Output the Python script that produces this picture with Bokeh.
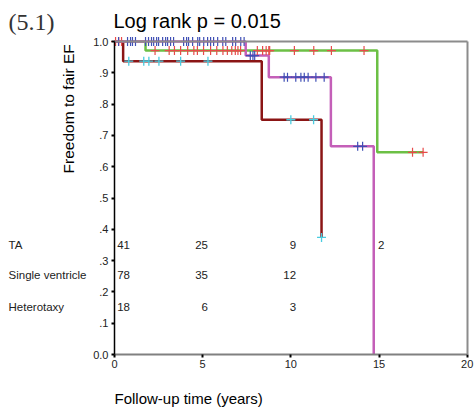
from bokeh.plotting import figure
from bokeh.models import Range1d, FixedTicker, Label, LinearAxis
from bokeh.embed import file_html
from bokeh.resources import INLINE
import math

# ---- data ----
ta_times = [0.0, 1.76, 14.9, 17.5]
ta_surv = [1.0, 0.971, 0.646, 0.646]
ta_cens_t = [0.06, 0.24, 0.40,
             2.3, 3.1, 3.4, 3.75, 4.15, 4.5, 4.7, 5.05, 5.45, 5.8, 6.15, 6.4, 6.65, 6.85, 7.0, 7.15,
             8.1, 8.4, 8.6, 8.75, 8.8, 10.2, 11.3, 12.3, 14.15, 16.9, 17.5]
ta_cens_s = [1.0, 1.0, 1.0] + [0.971] * 25 + [0.646, 0.646]

sv_times = [0.0, 7.44, 8.75, 12.27, 14.7]
sv_surv = [1.0, 0.955, 0.886, 0.665, 0.0]
sv_cens_t = [0.23, 0.74, 0.91, 1.02, 1.19, 1.76, 1.93, 2.10, 2.22, 2.39, 2.5, 2.73, 2.9, 3.01, 3.18,
             3.35, 3.92, 4.09, 4.2, 4.43, 4.72, 4.83, 5.06, 5.28, 5.45, 5.62, 5.85, 6.14, 6.31, 6.7,
             6.87, 7.16, 7.35,
             7.7, 7.85, 7.95,
             9.62, 9.81, 10.28, 10.57, 10.76, 10.98, 11.42, 11.89,
             13.79, 14.07]
sv_cens_s = [1.0] * 33 + [0.955] * 3 + [0.886] * 8 + [0.665] * 2

ht_times = [0.0, 0.49, 8.35, 11.74]
ht_surv = [1.0, 0.937, 0.75, 0.374]
ht_cens_t = [0.81, 1.66, 1.95, 2.52, 3.75, 5.3, 10.0, 11.29, 11.74]
ht_cens_s = [0.937] * 6 + [0.75, 0.75, 0.374]

groups = ["TA", "Single ventricle", "Heterotaxy"]
risk_times = [0, 5, 10, 15]
risk_ta = ["41", "25", "9", "2"]
risk_sv = ["78", "35", "12", ""]
risk_ht = ["18", "6", "3", ""]

x_ticks = [0, 5, 10, 15, 20]
y_ticks = [0.0, 0.1, 0.2, 0.3, 0.4, 0.5, 0.6, 0.7, 0.8, 0.9, 1.0]
y_tick_labels = ["0.0", ".1", ".2", ".3", ".4", ".5", ".6", ".7", ".8", ".9", "1.0"]

title_text = "Log rank p = 0.015"
panel_text = "(5.1)"
y_label = "Freedom to fair EF"
x_label = "Follow-up time (years)"

X_MIN, X_MAX = 0, 20
Y_MIN, Y_MAX = 0.0, 1.0

# ---- figure: the frame fills the page; axes sit at fixed data locations ----
FONT = "Liberation Sans"
p = figure(width=474, height=408, output_backend="svg", toolbar_location=None,
           x_range=Range1d(-6.464, 20.414), y_range=Range1d(-0.1725, 1.131),
           min_border=0)
p.title.visible = False
p.background_fill_color = "white"
p.border_fill_color = "white"
p.outline_line_color = None
p.grid.visible = False

p.xaxis.fixed_location = Y_MIN
p.yaxis.fixed_location = X_MIN
p.xaxis.bounds = (X_MIN, X_MAX)
p.yaxis.bounds = (Y_MIN, Y_MAX)
p.xaxis.ticker = FixedTicker(ticks=x_ticks)
p.yaxis.ticker = FixedTicker(ticks=y_ticks)
p.yaxis.major_label_overrides = {t: l for t, l in zip(y_ticks, y_tick_labels)}
for ax in (p.xaxis, p.yaxis):
    ax.minor_tick_line_color = None
    ax.major_tick_in = 0
    ax.major_tick_out = 3
    ax.major_tick_line_width = 2
    ax.major_tick_line_color = "black"
    ax.major_label_text_font = FONT
    ax.major_label_text_font_size = "11px"
    ax.major_label_text_color = "#222222"
p.yaxis.axis_line_color = "black"
p.yaxis.axis_line_width = 1.5
p.yaxis.major_label_standoff = 3
p.xaxis.axis_line_color = "#808080"
p.xaxis.axis_line_width = 2
p.xaxis.major_label_standoff = 2

# top and right frame borders as bare axes
top_ax = LinearAxis(fixed_location=Y_MAX, bounds=(X_MIN, X_MAX), ticker=FixedTicker(ticks=[]),
                    axis_line_color="#8c8c8c", axis_line_width=2, major_tick_line_color=None,
                    minor_tick_line_color=None, major_label_text_alpha=0)
right_ax = LinearAxis(fixed_location=X_MAX, bounds=(Y_MIN, Y_MAX), ticker=FixedTicker(ticks=[]),
                      axis_line_color="#8c8c8c", axis_line_width=2, major_tick_line_color=None,
                      minor_tick_line_color=None, major_label_text_alpha=0)
p.add_layout(top_ax, "above")
p.add_layout(right_ax, "right")

# ---- curves ----
p.step(ta_times, ta_surv, mode="after", line_color="#6cc045", line_width=2.5)
p.step(ht_times, ht_surv, mode="after", line_color="#8b1515", line_width=2.5)
p.step(sv_times, sv_surv, mode="after", line_color="#c45fb8", line_width=2.5)

p.scatter(ta_cens_t, ta_cens_s, marker="cross", size=9, line_color="#e84a4a", line_width=1.2)
p.scatter(sv_cens_t, sv_cens_s, marker="cross", size=9, line_color="#3f4fb5", line_width=1.2)
p.scatter(ht_cens_t, ht_cens_s, marker="cross", size=9, line_color="#48cce0", line_width=1.3)

# ---- number at risk ----
row_y = [0.35, 0.254, 0.153]
for name, ry, counts in zip(groups, row_y, [risk_ta, risk_sv, risk_ht]):
    p.add_layout(Label(x=-6.01, y=ry, text=name, text_font=FONT, text_font_size="11.5px",
                       text_baseline="middle", text_align="left", text_color="#222222"))
    for t, c in zip(risk_times, counts):
        if not c:
            continue
        if t == 0:
            xx, al = t + 0.15, "left"
        elif t == 15:
            xx, al = t - 0.06, "left"
        else:
            xx, al = t + 0.3, "right"
        p.add_layout(Label(x=xx, y=ry, text=c, text_font=FONT, text_font_size="11.5px",
                           text_baseline="middle", text_align=al, text_color="#222222"))

# ---- titles & axis labels ----
p.add_layout(Label(x=-6.01, y=1.063, text=panel_text, text_font="Liberation Serif",
                   text_font_size="24px", text_color="#333333", text_baseline="alphabetic"))
p.add_layout(Label(x=-0.06, y=1.064, text=title_text, text_font=FONT,
                   text_font_size="20px", text_color="black", text_baseline="alphabetic"))
p.add_layout(Label(x=-2.61, y=0.785, text=y_label, text_font=FONT, text_font_size="15.5px",
                   angle=math.pi / 2, text_align="center", text_baseline="middle", text_color="black"))
p.add_layout(Label(x=0.0, y=-0.139, text=x_label, text_font=FONT, text_font_size="15px",
                   text_align="left", text_baseline="alphabetic", text_color="black"))

open("out.html", "w").write(file_html(p, INLINE))
